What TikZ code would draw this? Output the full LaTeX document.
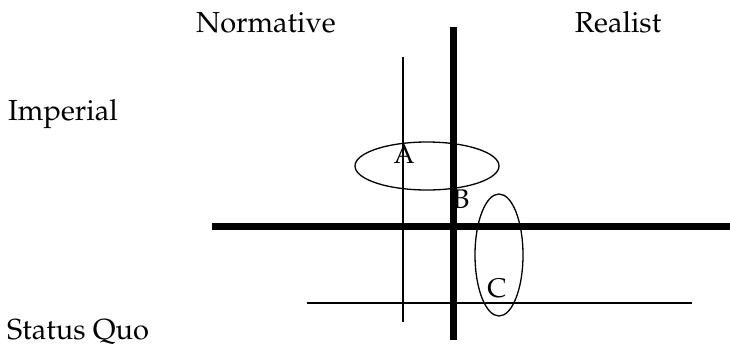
\documentclass[tikz,border=0pt]{standalone}
\usepackage[T1]{fontenc}
\renewcommand{\rmdefault}{ppl}
\tikzset{
  axis/.style={line width=7pt},
  guide/.style={line width=1.3pt},
  ring/.style={line width=1.3pt},
  lbl/.style={inner sep=0pt,font=\fontsize{29}{34}\selectfont},
  tag/.style={inner sep=0pt,font=\fontsize{27}{31}\selectfont},
}
\begin{document}
\begin{tikzpicture}[x=1pt,y=-1pt]
\useasboundingbox (0,0) rectangle (730,346);
% main axes
\draw[axis] (453,27)--(453,340);
\draw[axis] (212,226)--(730,226);
% thin guides
\draw[guide] (403,57)--(403,322);
\draw[guide] (307,303)--(692,303);
% regions
\draw[ring] (427,166) ellipse [x radius=72, y radius=24];
\draw[ring] (499,255) ellipse [x radius=24, y radius=61];
% labels
\node[lbl,anchor=base] (norm) at (266,32) {Normative};
\node[lbl,anchor=base] (real) at (618,32) {Realist};
\node[lbl,anchor=base west] (imp) at (8,120) {Imperial};
\node[lbl,anchor=base west] (sq) at (7,339) {Status Quo};
\node[tag,anchor=base] (a) at (404,163) {A};
\node[tag,anchor=base] (b) at (461,208) {B};
\node[tag,anchor=base] (c) at (497,297) {C};
\end{tikzpicture}
\end{document}
